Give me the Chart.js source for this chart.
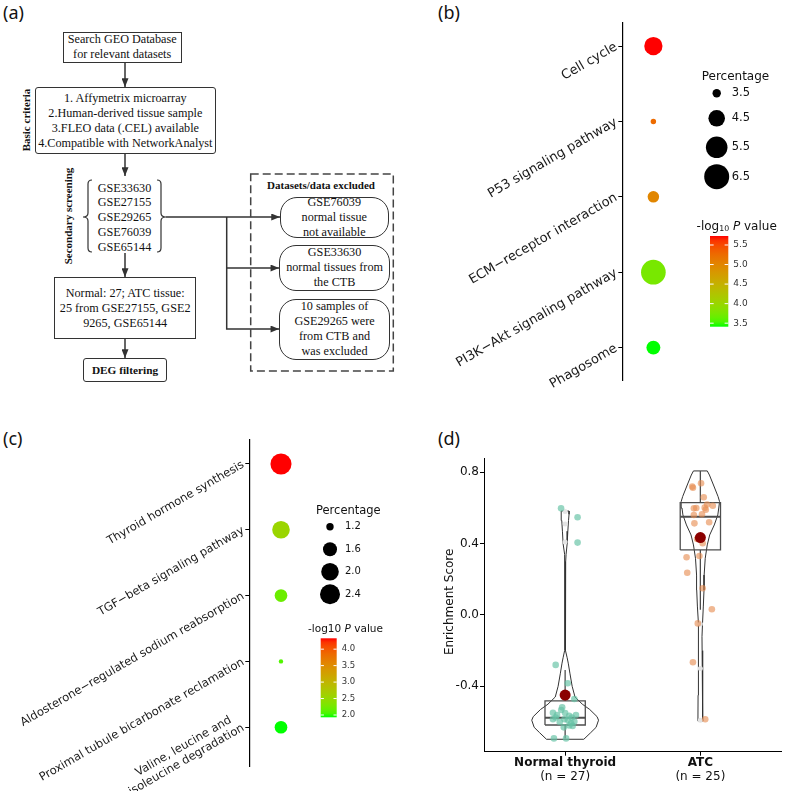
<!DOCTYPE html>
<html>
<head>
<meta charset="utf-8">
<script src="https://cdn.jsdelivr.net/npm/chart.js@4.4.1/dist/chart.umd.min.js"></script>
<style>
  body { margin: 0; background: #fff; }
  #fig { position: relative; width: 787px; height: 791px; overflow: hidden; background: #fff; }
  .abs { position: absolute; }
  .tag { position: absolute; font: 18px 'Noto Sans', sans-serif; line-height: 18px; color: #111; }
  .fbox {
    position: absolute; box-sizing: border-box; border: 1.4px solid #333;
    display: flex; align-items: center; justify-content: center; text-align: center;
    font: 12.2px 'Liberation Serif', 'Times New Roman', serif; line-height: 15px; color: #111;
    background: #fff; white-space: nowrap;
  }
  .round { border-width: 1.2px; border-radius: 17px; }
  .vlab {
    position: absolute; transform: translate(-50%, -50%) rotate(-90deg);
    font: bold 11px 'Liberation Serif', serif; color: #111; white-space: nowrap;
  }
  .plain { position: absolute; font: 12.2px 'Liberation Serif', serif; line-height: 14.7px; color: #111; text-align: center; white-space: nowrap; }
  canvas { position: absolute; }
</style>
</head>
<body>
<div id="fig">
  <!-- (a) flow chart -->
  <svg class="abs" width="395" height="395" style="left:0;top:0">
    <defs>
      <marker id="ah" viewBox="0 0 10 8" refX="10" refY="4" markerWidth="9" markerHeight="7"
              markerUnits="userSpaceOnUse" orient="auto">
        <path d="M0,0 L10,4 L0,8 z" fill="#333"/>
      </marker>
    </defs>
    <g stroke="#333" stroke-width="1.5" fill="none">
      <line x1="125" y1="63" x2="125" y2="87" marker-end="url(#ah)"/>
      <line x1="125" y1="154" x2="125" y2="176" marker-end="url(#ah)"/>
      <line x1="125" y1="253" x2="125" y2="277" marker-end="url(#ah)"/>
      <line x1="125" y1="339" x2="125" y2="358" marker-end="url(#ah)"/>
      <line x1="166" y1="217" x2="280" y2="217" marker-end="url(#ah)"/>
      <polyline points="226.7,217 226.7,329 279.3,329" marker-end="url(#ah)"/>
      <line x1="226.7" y1="268" x2="279.3" y2="268" marker-end="url(#ah)"/>
      <path stroke-width="1.2" d="M92 180 Q88 180 88 184 L88 213 Q88 217 83 217 Q88 217 88 221 L88 248 Q88 252 92 252"/>
      <path stroke-width="1.2" d="M157 180 Q161 180 161 184 L161 213 Q161 217 166 217 Q161 217 161 221 L161 248 Q161 252 157 252"/>
      <rect x="250.7" y="174" width="142.6" height="197" stroke="#444" stroke-dasharray="8 4"/>
    </g>
  </svg>
  <div class="tag" style="left:3px;top:2.7px">(a)</div>
  <div class="fbox" style="left:62.7px;top:31.7px;width:119px;height:31.6px">Search GEO Database<br>for relevant datasets</div>
  <div class="fbox" style="left:35px;top:87.3px;width:180.7px;height:66.7px;border-radius:3px">1. Affymetrix microarray<br>2.Human-derived tissue sample<br>3.FLEO data (.CEL) available<br>4.Compatible with NetworkAnalyst</div>
  <div class="vlab" style="left:25.5px;top:120px">Basic criteria</div>
  <div class="vlab" style="left:68.3px;top:215.8px">Secondary screening</div>
  <div class="plain" style="left:94px;top:180.7px;width:61px">GSE33630<br>GSE27155<br>GSE29265<br>GSE76039<br>GSE65144</div>
  <div class="fbox" style="left:54.3px;top:277.3px;width:141.7px;height:62px">Normal: 27; ATC tissue:<br>25 from GSE27155, GSE2<br>9265, GSE65144</div>
  <div class="fbox" style="left:83.3px;top:358.3px;width:83.4px;height:24px;border-radius:3px;font-size:11.3px;font-weight:bold">DEG filtering</div>
  <div class="plain" style="left:256px;top:178px;width:130px;font-size:11px;font-weight:bold">Datasets/data excluded</div>
  <div class="fbox round" style="left:280px;top:197px;width:108.5px;height:41px">GSE76039<br>normal tissue<br>not available</div>
  <div class="fbox round" style="left:279.3px;top:245px;width:110.5px;height:45.7px">GSE33630<br>normal tissues from<br>the CTB</div>
  <div class="fbox round" style="left:279.3px;top:299px;width:110.5px;height:60.5px">10 samples of<br>GSE29265 were<br>from CTB and<br>was excluded</div>

  <div class="tag" style="left:438px;top:2.7px">(b)</div>
  <div class="tag" style="left:3px;top:429.4px">(c)</div>
  <div class="tag" style="left:438px;top:429.4px">(d)</div>

  <canvas id="chartB" width="397" height="395" style="left:390px;top:0"></canvas>
  <canvas id="chartC" width="390" height="391" style="left:0;top:400px"></canvas>
  <canvas id="chartD" width="397" height="391" style="left:390px;top:400px"></canvas>
</div>

<script>
// ---- (b) KEGG terms
const keggB = ['Cell cycle', 'P53 signaling pathway', 'ECM−receptor interaction', 'PI3K−Akt signaling pathway', 'Phagosome'];
const pctB = [4.8, 3.3, 3.8, 6.4, 4.1];
const logpB = [5.73, 5.25, 5.0, 3.75, 3.41];
const pctBreaksB = [3.5, 4.5, 5.5, 6.5];
const logpBreaksB = [3.5, 4.0, 4.5, 5.0, 5.5];

// ---- (c) KEGG terms
const keggC = ['Thyroid hormone synthesis', 'TGF−beta signaling pathway', 'Aldosterone−regulated sodium reabsorption',
  'Proximal tubule bicarbonate reclamation', ['Valine, leucine and', 'isoleucine degradation']];
const pctC = [2.6, 2.0, 1.5, 1.1, 1.5];
const logpC = [4.33, 2.55, 2.2, 2.08, 1.93];
const pctBreaksC = [1.2, 1.6, 2.0, 2.4];
const logpBreaksC = [2.0, 2.5, 3.0, 3.5, 4.0];

// ---- (d) enrichment scores
const groups = ['Normal thyroid', 'ATC'];
const groupN = [27, 25];
const normalX = [0.97, 1.092, 1.092, 0.93, 1.019, 1.068, 0.978, 0.971, 0.91, 0.94, 1.03, 1.08, 0.91, 1.02,
  1.068, 1.044, 0.995, 1.055, 0.917, 1.007, 1.03, 0.96, 1.0, 1.05, 0.93, 0.99, 1.0];
const normalY = [0.598, 0.548, 0.406, -0.28, -0.383, -0.471, -0.518, -0.533, -0.548, -0.561, -0.566, -0.561, -0.585, -0.589,
  -0.598, -0.607, -0.585, -0.622, -0.692, -0.692, -0.62, -0.6, -0.55, -0.575, -0.575, -0.63, -0.44];
const atcX = [1.945, 1.94, 2.005, 2.025, 1.952, 2.032, 2.092, 1.952, 2.012, 1.956, 2.065, 1.976, 2.017, 1.898,
  1.993, 1.903, 2.017, 2.085, 1.981, 1.945, 2.036, 2.04, 2.0, 2.05, 1.97];
const atcY = [0.714, 0.72, 0.739, 0.66, 0.598, 0.602, 0.613, 0.561, 0.565, 0.514, 0.52, 0.426, 0.402, 0.324,
  0.331, 0.237, 0.15, 0.032, -0.047, -0.265, -0.585, 0.59, 0.44, 0.62, 0.6];
const groupMean = [-0.449, 0.434];
const boxQ1 = [-0.617, 0.365];
const boxMedian = [-0.576, 0.551];
const boxQ3 = [-0.482, 0.63];
const whiskerLow = [-0.692, 0.03];
const whiskerHigh = [-0.308, 0.808];
const outlierY = [[0.58, 0.51, 0.41], [-0.05, -0.3, -0.59]];
const violinNormalY = [0.583, 0.565, 0.53, 0.47, 0.40, 0.34, 0.30, 0.10, -0.10, -0.20, -0.24, -0.27, -0.33, -0.40,
  -0.46, -0.50, -0.53, -0.57, -0.59, -0.63, -0.66, -0.697];
const violinNormalW = [0.029, 0.029, 0.025, 0.020, 0.015, 0.007, 0.004, 0.002, 0.002, 0.004, 0.015, 0.023, 0.036, 0.052,
  0.073, 0.127, 0.182, 0.236, 0.247, 0.229, 0.189, 0.138];
const violinAtcY = [0.808, 0.785, 0.729, 0.664, 0.636, 0.60, 0.561, 0.505, 0.449, 0.393, 0.318, 0.224, 0.14, 0.05,
  -0.047, -0.122, -0.2, -0.327, -0.45, -0.595];
const violinAtcW = [0.051, 0.067, 0.097, 0.131, 0.142, 0.136, 0.129, 0.103, 0.069, 0.051, 0.036, 0.028, 0.027, 0.022,
  0.016, 0.012, 0.013, 0.016, 0.017, 0.018];
const yTicksD = [-0.4, 0, 0.4, 0.8];

Chart.defaults.font.family = "'DejaVu Sans', sans-serif";
Chart.defaults.color = '#111';

// green -> red in Lab space, like scale_colour_gradient
function toLab(hex) {
  const c = [1, 3, 5].map(i => parseInt(hex.slice(i, i + 2), 16) / 255)
    .map(v => v <= 0.04045 ? v / 12.92 : Math.pow((v + 0.055) / 1.055, 2.4));
  const X = (0.4124 * c[0] + 0.3576 * c[1] + 0.1805 * c[2]) / 0.95047;
  const Y = 0.2126 * c[0] + 0.7152 * c[1] + 0.0722 * c[2];
  const Z = (0.0193 * c[0] + 0.1192 * c[1] + 0.9505 * c[2]) / 1.08883;
  const f = t => t > 0.008856 ? Math.cbrt(t) : 7.787 * t + 16 / 116;
  return [116 * f(Y) - 16, 500 * (f(X) - f(Y)), 200 * (f(Y) - f(Z))];
}
function fromLab([L, a, b]) {
  const fy = (L + 16) / 116, fx = fy + a / 500, fz = fy - b / 200;
  const g = t => t * t * t > 0.008856 ? t * t * t : (t - 16 / 116) / 7.787;
  const X = g(fx) * 0.95047, Y = g(fy), Z = g(fz) * 1.08883;
  const lin = [3.2406 * X - 1.5372 * Y - 0.4986 * Z, -0.9689 * X + 1.8758 * Y + 0.0415 * Z, 0.0557 * X - 0.2040 * Y + 1.0570 * Z];
  return 'rgb(' + lin.map(v => {
    const s = v <= 0.0031308 ? 12.92 * v : 1.055 * Math.pow(v, 1 / 2.4) - 0.055;
    return Math.round(Math.min(1, Math.max(0, s)) * 255);
  }).join(',') + ')';
}
const labLow = toLab('#00ff00'), labHigh = toLab('#ff0000');
const gradColor = t => fromLab(labLow.map((v, i) => v + (labHigh[i] - v) * t));

// point radius: piecewise linear in area through the legend keys
function sizeScale(breaks, keyRadii) {
  return v => {
    let i = 0;
    while (i < breaks.length - 2 && v > breaks[i + 1]) i++;
    const a = keyRadii[i] ** 2, b = keyRadii[i + 1] ** 2;
    return Math.sqrt(Math.max(1, a + (v - breaks[i]) / (breaks[i + 1] - breaks[i]) * (b - a)));
  };
}

function drawLogTitle(ctx, cx, cy, size, sub) {
  const reg = s => s + "px 'DejaVu Sans'";
  const parts = sub
    ? [['-log', reg(size), 0], ['10', reg(size * 0.65), size * 0.22], [' ', reg(size), 0], ['P', 'italic ' + reg(size), 0], [' value', reg(size), 0]]
    : [['-log10 ', reg(size), 0], ['P', 'italic ' + reg(size), 0], [' value', reg(size), 0]];
  let w = 0;
  parts.forEach(p => { ctx.font = p[1]; w += ctx.measureText(p[0]).width; });
  let x = cx - w / 2;
  ctx.textAlign = 'left';
  ctx.textBaseline = 'middle';
  parts.forEach(p => { ctx.font = p[1]; ctx.fillText(p[0], x, cy + p[2]); x += ctx.measureText(p[0]).width; });
}

function dotPlot(id, cats, pct, logp, cfg) {
  const size = sizeScale(cfg.breaks, cfg.keyRadii);
  const lo = Math.min(...logp), hi = Math.max(...logp);
  const extras = {
    id: 'keys',
    afterDraw(chart) {
      const ctx = chart.ctx, L = cfg.legend, ys = chart.scales.y;
      ctx.save();
      // rotated term labels (30 degrees, right end at the tick)
      ctx.fillStyle = '#1a1a1a';
      ctx.font = cfg.labelSize + "px 'DejaVu Sans'";
      cats.forEach((c, i) => {
        const lines = [].concat(c);
        ctx.save();
        ctx.translate(ys.right - 6, ys.getPixelForValue(i + 1));
        ctx.rotate(-Math.PI / 6);
        ctx.textAlign = 'right';
        ctx.textBaseline = 'middle';
        lines.forEach((l, j) => {
          const last = j === lines.length - 1;
          ctx.fillText(l, last ? 0 : -7, (j - (lines.length - 1)) * cfg.labelSize * 1.15);
        });
        ctx.restore();
      });
      ctx.fillStyle = '#111';
      ctx.textAlign = 'left';
      ctx.textBaseline = 'middle';
      ctx.font = L.titleSize + "px 'DejaVu Sans'";
      ctx.fillText('Percentage', L.titleX, L.titleY);
      ctx.font = L.labelSize + "px 'DejaVu Sans'";
      cfg.breaks.forEach((b, i) => {
        ctx.fillStyle = '#000';
        ctx.beginPath();
        ctx.arc(L.keyX, L.keyY[i], size(b), 0, Math.PI * 2);
        ctx.fill();
        ctx.fillStyle = '#111';
        ctx.fillText(b.toFixed(1), L.keyX + 15, L.keyY[i]);
      });
      drawLogTitle(ctx, L.cbTitleX, L.cbTitleY, L.cbTitleSize, L.sub);
      const [x0, y0, w, h] = L.bar;
      const grad = ctx.createLinearGradient(0, y0 + h, 0, y0);
      for (let t = 0; t <= 1.0001; t += 0.05) grad.addColorStop(Math.min(t, 1), gradColor(t));
      ctx.fillStyle = grad;
      ctx.fillRect(x0, y0, w, h);
      ctx.font = L.cbLabelSize + "px 'DejaVu Sans'";
      cfg.colorBreaks.forEach(v => {
        const y = y0 + h - (v - lo) / (hi - lo) * h;
        ctx.strokeStyle = '#fff';
        ctx.lineWidth = 1;
        ctx.beginPath();
        ctx.moveTo(x0, y); ctx.lineTo(x0 + w * 0.2, y);
        ctx.moveTo(x0 + w * 0.8, y); ctx.lineTo(x0 + w, y);
        ctx.stroke();
        ctx.fillStyle = '#333';
        ctx.fillText(v.toFixed(1), x0 + w + 5, y);
      });
      ctx.restore();
    }
  };
  new Chart(document.getElementById(id), {
    type: 'bubble',
    data: {
      datasets: [{
        data: cats.map((c, i) => ({ x: 1, y: i + 1, r: size(pct[i]) })),
        backgroundColor: logp.map(v => gradColor((v - lo) / (hi - lo))),
        borderWidth: 0,
        clip: false
      }]
    },
    options: {
      responsive: false,
      animation: false,
      events: [],
      layout: { padding: cfg.padding },
      plugins: { legend: { display: false }, tooltip: { enabled: false } },
      scales: {
        x: { display: false, min: 0, max: cfg.xMax },
        y: {
          reverse: true, min: cfg.yMin, max: cfg.yMax,
          afterFit: s => { s.width = cfg.axisX; },
          afterBuildTicks: s => { s.ticks = cats.map((c, i) => ({ value: i + 1 })); },
          ticks: { color: 'rgba(0,0,0,0)', autoSkip: false },
          grid: { drawOnChartArea: false, drawTicks: true, tickLength: 4, color: '#000' },
          border: { color: '#000', width: 1.2 }
        }
      }
    },
    plugins: [extras]
  });
}

dotPlot('chartB', keggB, pctB, logpB, {
  breaks: pctBreaksB, keyRadii: [4.2, 8.3, 10.8, 12.5], colorBreaks: logpBreaksB,
  padding: { top: 22.7, bottom: 15, left: 0, right: 87 }, axisX: 232.3, xMax: 2.5,
  yMin: 0.69, yMax: 5.43, labelSize: 13,
  legend: {
    titleX: 311.7, titleY: 77, titleSize: 12, labelSize: 11.5, keyX: 326.7, keyY: [93.3, 118.3, 147.3, 176.7],
    cbTitleX: 346.7, cbTitleY: 226.7, cbTitleSize: 12, sub: true, bar: [320, 236, 18.3, 90.7], cbLabelSize: 9
  }
});

dotPlot('chartC', keggC, pctC, logpC, {
  breaks: pctBreaksC, keyRadii: [3.7, 7, 8.8, 10], colorBreaks: logpBreaksC,
  padding: { top: 39.3, bottom: 24.3, left: 0, right: 90 }, axisX: 249.3, xMax: 1.6,
  yMin: 0.625, yMax: 5.6, labelSize: 11.5,
  legend: {
    titleX: 316, titleY: 110.7, titleSize: 11.5, labelSize: 10, keyX: 330, keyY: [126.7, 149.3, 171.7, 194.3],
    cbTitleX: 345.5, cbTitleY: 229.3, cbTitleSize: 10.5, sub: false, bar: [320.7, 238.3, 16, 79], cbLabelSize: 8.5
  }
});

// ---- (d)
const pts = (xs, ys) => xs.map((x, i) => ({ x, y: ys[i] }));
const lineSet = (data, color, width, order) => ({
  data, showLine: true, pointRadius: 0, pointHoverRadius: 0, borderColor: color, borderWidth: width, fill: false, order
});
const violin = (c, ys, ws) => {
  const right = ys.map((y, i) => ({ x: c + ws[i], y }));
  const left = ys.map((y, i) => ({ x: c - ws[i], y })).reverse();
  return right.concat(left, [right[0]]);
};

const setsD = [
  { data: groupMean.map((m, i) => ({ x: i + 1, y: m })), pointRadius: 5.5, backgroundColor: '#8b0000', pointBorderWidth: 0, order: 0 },
  { data: pts(normalX, normalY), pointRadius: 3.3, backgroundColor: 'rgba(102,194,165,0.68)', pointBorderWidth: 0, order: 1 },
  { data: pts(atcX, atcY), pointRadius: 3.3, backgroundColor: 'rgba(230,140,80,0.62)', pointBorderWidth: 0, order: 1 },
  lineSet(violin(1, violinNormalY, violinNormalW), '#333', 1, 4),
  lineSet(violin(2, violinAtcY, violinAtcW), '#333', 1, 4)
];
groups.forEach((g, i) => {
  const c = i + 1, h = 0.149;
  setsD.push(lineSet([{ x: c - h, y: boxQ1[i] }, { x: c + h, y: boxQ1[i] }, { x: c + h, y: boxQ3[i] },
    { x: c - h, y: boxQ3[i] }, { x: c - h, y: boxQ1[i] }], '#4d4d4d', 1.3, 2));
  setsD.push(lineSet([{ x: c - h, y: boxMedian[i] }, { x: c + h, y: boxMedian[i] }], '#4d4d4d', 2, 2));
  setsD.push(lineSet([{ x: c, y: boxQ3[i] }, { x: c, y: whiskerHigh[i] }], '#4d4d4d', 1.3, 2));
  setsD.push(lineSet([{ x: c, y: boxQ1[i] }, { x: c, y: whiskerLow[i] }], '#4d4d4d', 1.3, 2));
  setsD.push({ data: outlierY[i].map(y => ({ x: c, y })), pointRadius: 2.5, backgroundColor: '#e3e3e3', pointBorderWidth: 0, order: 3 });
});

const extrasD = {
  id: 'extrasD',
  afterDraw(chart) {
    const { ctx, scales: { x, y } } = chart;
    ctx.save();
    ctx.fillStyle = '#111';
    ctx.font = "12px 'DejaVu Sans'";
    ctx.textAlign = 'center';
    ctx.textBaseline = 'middle';
    groups.forEach((g, i) => ctx.fillText('(n = ' + groupN[i] + ')', x.getPixelForValue(i + 1), x.top + 25));
    ctx.translate(60, (y.top + y.bottom) / 2 - 3);
    ctx.rotate(-Math.PI / 2);
    ctx.fillText('Enrichment Score', 0, 0);
    ctx.restore();
  }
};

new Chart(document.getElementById('chartD'), {
  type: 'scatter',
  data: { datasets: setsD },
  options: {
    responsive: false,
    animation: false,
    events: [],
    layout: { padding: { top: 58, right: 2, left: 0, bottom: 0 } },
    plugins: { legend: { display: false }, tooltip: { enabled: false } },
    scales: {
      x: {
        min: 0.4, max: 2.6,
        afterFit: s => { s.height = 39.3; },
        afterBuildTicks: s => { s.ticks = groups.map((g, i) => ({ value: i + 1 })); },
        ticks: { callback: v => groups[v - 1], padding: 0, color: '#111', font: { size: 12, weight: 'bold' } },
        grid: { drawOnChartArea: false, drawTicks: true, tickLength: 4, color: '#000' },
        border: { color: '#000', width: 1 }
      },
      y: {
        min: -0.7667, max: 0.8805,
        afterFit: s => { s.width = 94; },
        afterBuildTicks: s => { s.ticks = yTicksD.map(v => ({ value: v })); },
        ticks: { callback: v => v.toFixed(1), padding: 1, color: '#111', font: { size: 12 } },
        grid: { drawOnChartArea: false, drawTicks: true, tickLength: 4, color: '#000' },
        border: { color: '#000', width: 1 }
      }
    }
  },
  plugins: [extrasD]
});
</script>
</body>
</html>
